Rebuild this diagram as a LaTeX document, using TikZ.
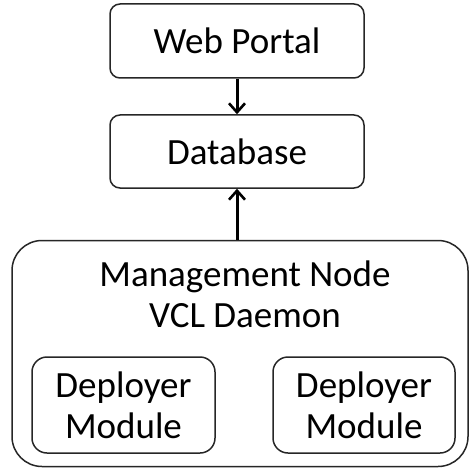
\documentclass[tikz,border=0pt]{standalone}
\usepackage{fontspec}
\setmainfont{Carlito}
\usetikzlibrary{arrows.meta}
\begin{document}
\begin{tikzpicture}[x=1pt,y=1pt,
  box/.style={draw=black!85, line width=1.5pt, rounded corners=10pt,
    inner sep=0pt, align=center, font=\fontsize{37}{41}\selectfont},
  arr/.style={line width=3pt, -{Straight Barb[length=9pt,width=16pt,line width=2.6pt]}}]
\useasboundingbox (0,0) rectangle (470,469);
% upper tier
\node[box, minimum width=254pt, minimum height=74pt] (wp) at (237,428) {\raisebox{-2pt}{Web Portal}};
\node[box, minimum width=254pt, minimum height=73pt] (db) at (237,317.5) {\raisebox{-2pt}{Database}};
% management node with its deployer modules
\node[box, rounded corners=30pt, minimum width=456pt, minimum height=226pt] (mg) at (240,115.5) {};
\node[font=\fontsize{37}{41}\selectfont, align=center, inner sep=0pt] (mgl) at (245,175) {Management Node\\VCL Daemon};
\node[box, rounded corners=15pt, minimum width=183pt, minimum height=96pt] (d1) at (123.5,64) {Deployer\\Module};
\node[box, rounded corners=15pt, minimum width=182pt, minimum height=96pt] (d2) at (364,64) {Deployer\\Module};
% connectors
\draw[arr] (wp.south) -- (db.north);
\draw[arr] (db.south |- mg.north) -- (db.south);
\end{tikzpicture}
\end{document}
